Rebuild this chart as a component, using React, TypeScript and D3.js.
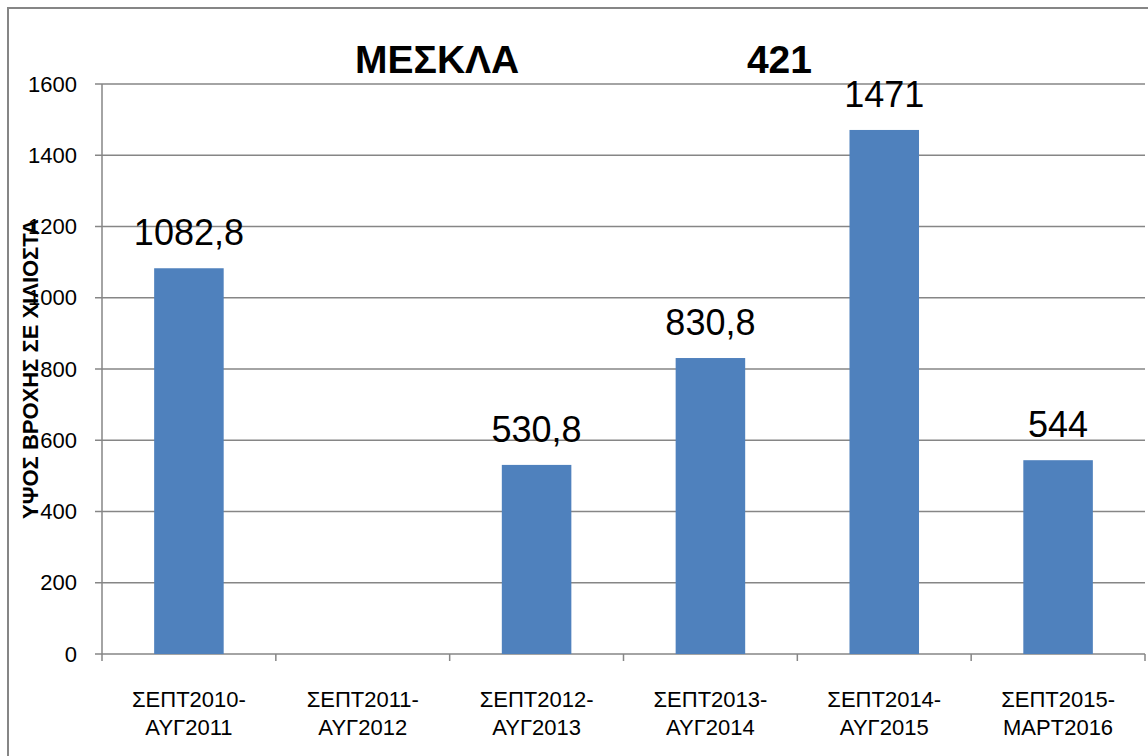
import React, { useEffect, useRef } from "react";
import * as d3 from "d3";

const categories = [
  ["ΣΕΠΤ2010-", "ΑΥΓ2011"],
  ["ΣΕΠΤ2011-", "ΑΥΓ2012"],
  ["ΣΕΠΤ2012-", "ΑΥΓ2013"],
  ["ΣΕΠΤ2013-", "ΑΥΓ2014"],
  ["ΣΕΠΤ2014-", "ΑΥΓ2015"],
  ["ΣΕΠΤ2015-", "ΜΑΡΤ2016"],
];
const rainfall: (number | null)[] = [1082.8, null, 530.8, 830.8, 1471, 544];
const yTicks = [0, 200, 400, 600, 800, 1000, 1200, 1400, 1600];
const titleName = "ΜΕΣΚΛΑ";
const titleCode = "421";
const yTitle = "ΥΨΟΣ ΒΡΟΧΗΣ ΣΕ ΧΙΛΙΟΣΤΑ";

export default function App() {
  const svgRef = useRef<SVGSVGElement>(null);
  const width = 1148;
  const height = 756;
  const margin = { top: 84, right: 3, bottom: 102, left: 102 };
  const font = "'Liberation Sans', Arial, sans-serif";
  const grey = "#868686";

  useEffect(() => {
    document.body.style.margin = "0";
    const svg = d3.select(svgRef.current);
    svg.selectAll("*").remove();

    const keys = categories.map((c) => c.join(" "));
    const x = d3
      .scaleBand()
      .domain(keys)
      .range([margin.left, width - margin.right])
      .paddingInner(0.6)
      .paddingOuter(0.3);
    const y = d3
      .scaleLinear()
      .domain([0, 1600])
      .range([height - margin.bottom, margin.top]);
    const step = x.step();

    // outer border
    svg
      .append("rect")
      .attr("x", 8)
      .attr("y", 8)
      .attr("width", width + 10)
      .attr("height", height + 10)
      .attr("fill", "white")
      .attr("stroke", grey)
      .attr("stroke-width", 2);

    // gridlines + y ticks
    const yg = svg.append("g");
    yg.selectAll("line.grid")
      .data(yTicks)
      .enter()
      .append("line")
      .attr("x1", margin.left - 7)
      .attr("x2", width - margin.right)
      .attr("y1", (d) => y(d))
      .attr("y2", (d) => y(d))
      .attr("stroke", grey)
      .attr("stroke-width", 1.5);
    yg.selectAll("text")
      .data(yTicks)
      .enter()
      .append("text")
      .attr("x", 77)
      .attr("y", (d) => y(d))
      .attr("dy", "0.35em")
      .attr("text-anchor", "end")
      .attr("font-family", font)
      .attr("font-size", 22)
      .attr("fill", "#000")
      .text((d) => d);

    // axes lines
    svg
      .append("line")
      .attr("x1", margin.left)
      .attr("x2", margin.left)
      .attr("y1", y(1600))
      .attr("y2", y(0))
      .attr("stroke", grey)
      .attr("stroke-width", 1.5);

    const bounds = keys.map((k) => (x(k) as number) - (step * 0.6) / 2);
    bounds.push(width - margin.right);
    svg
      .selectAll("line.xtick")
      .data(bounds)
      .enter()
      .append("line")
      .attr("x1", (d) => d)
      .attr("x2", (d) => d)
      .attr("y1", y(0))
      .attr("y2", y(0) + 7)
      .attr("stroke", grey)
      .attr("stroke-width", 1.5);

    // bars
    const data = keys.map((k, i) => ({ k, v: rainfall[i] }));
    svg
      .selectAll("rect.bar")
      .data(data.filter((d) => d.v !== null))
      .enter()
      .append("rect")
      .attr("x", (d) => x(d.k) as number)
      .attr("y", (d) => y(d.v as number))
      .attr("width", x.bandwidth())
      .attr("height", (d) => y(0) - y(d.v as number))
      .attr("fill", "#4F81BD");

    // value labels
    svg
      .selectAll("text.val")
      .data(data.filter((d) => d.v !== null))
      .enter()
      .append("text")
      .attr("x", (d) => (x(d.k) as number) + x.bandwidth() / 2)
      .attr("y", (d) => y(d.v as number) - 23)
      .attr("text-anchor", "middle")
      .attr("font-family", font)
      .attr("font-size", 36)
      .attr("fill", "#000")
      .text((d) => String(d.v).replace(".", ","));

    // category labels
    const cl = svg
      .selectAll("text.cat")
      .data(categories)
      .enter()
      .append("text")
      .attr("text-anchor", "middle")
      .attr("font-family", font)
      .attr("font-size", 22)
      .attr("fill", "#000");
    cl.each(function (d, i) {
      const cx = (x(keys[i]) as number) + x.bandwidth() / 2;
      d.forEach((line, j) => {
        d3.select(this)
          .append("tspan")
          .attr("x", cx)
          .attr("y", 707 + j * 28)
          .text(line);
      });
    });

    // title
    svg
      .append("text")
      .attr("x", 355)
      .attr("y", 73)
      .attr("font-family", font)
      .attr("font-weight", "bold")
      .attr("font-size", 39)
      .text(titleName);
    svg
      .append("text")
      .attr("x", 812)
      .attr("y", 73)
      .attr("text-anchor", "end")
      .attr("font-family", font)
      .attr("font-weight", "bold")
      .attr("font-size", 39)
      .text(titleCode);

    // y axis title (drawn over the tick labels like the original)
    svg
      .append("text")
      .attr("transform", `translate(38, ${y(800)}) rotate(-90)`)
      .attr("text-anchor", "middle")
      .attr("font-family", font)
      .attr("font-weight", "bold")
      .attr("font-size", 22)
      .text(yTitle);
  }, []);

  return (
    <svg
      ref={svgRef}
      width={width}
      height={height}
      style={{ position: "absolute", left: 0, top: 0, display: "block" }}
    />
  );
}
